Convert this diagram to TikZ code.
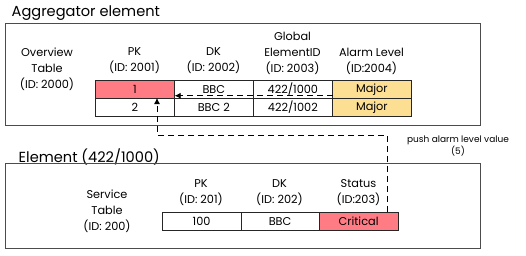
\documentclass[tikz,border=0pt]{standalone}
\usepackage{fontspec}
\setmainfont{Poppins}
\usepackage{xcolor}
\usetikzlibrary{arrows.meta}

\definecolor{alarmred}{HTML}{FF7C85}
\definecolor{alarmyellow}{HTML}{FDDF94}

\tikzset{
	frame/.style = {draw = black!70, line width = 0.8pt},
	cell/.style = {draw = black!85, line width = 0.7pt, anchor = north west, inner sep = 0pt,
		minimum width = 79pt, minimum height = 18pt, font = \fontsize{11.3}{12}\selectfont},
	head/.style = {align = center, inner sep = 0pt, font = \fontsize{11.3}{16}\selectfont},
	title/.style = {anchor = west, inner sep = 0pt, font = \fontsize{14.6}{16}\selectfont},
	push/.style = {dashed, line width = 0.8pt, dash pattern = on 6pt off 4pt, -{Latex[length = 6pt, width = 6pt]}}
}

\begin{document}
\begin{tikzpicture}[x = 1pt, y = -1pt]
		\useasboundingbox (0,0) rectangle (526,255);
		
		% aggregator element
		\node[title] (aggtitle) at (11.5,13) {Aggregator element};
		\draw[frame] (5,23) rectangle (480,125);
		
		\node[head] (ovw) at (47,69) {Overview\\Table\\(ID: 2000)};
		\node[head] (hpk) at (134.5,61) {PK\\(ID: 2001)};
		\node[head] (hdk) at (213.5,61) {DK\\(ID: 2002)};
		\node[head] (hgid) at (292.5,53) {Global\\ElementID\\(ID: 2003)};
		\node[head] (halarm) at (371.5,61) {Alarm Level\\(ID:2004)};
		
		\node[cell, fill = alarmred] (pk1) at (95,80) {1};
		\node[cell] (dk1) at (174,80) {BBC};
		\node[cell] (gid1) at (253,80) {422/1000};
		\node[cell, fill = alarmyellow] (al1) at (332,80) {Major};
		\node[cell] (pk2) at (95,98) {2};
		\node[cell] (dk2) at (174,98) {BBC 2};
		\node[cell] (gid2) at (253,98) {422/1002};
		\node[cell, fill = alarmyellow] (al2) at (332,98) {Major};
		
		% element
		\node[title] (eltitle) at (18.5,157) {Element (422/1000)};
		\draw[frame] (5,163) rectangle (480,248);
		
		\node[head] (svc) at (107,211) {Service\\Table\\(ID: 200)};
		\node[head] (spk) at (201,192.5) {PK\\(ID: 201)};
		\node[head] (sdk) at (279.5,192.5) {DK\\(ID: 202)};
		\node[head] (sstat) at (358.5,192.5) {Status\\(ID:203)};
		
		\node[cell, minimum width = 78.5pt, minimum height = 17.5pt] (spk1) at (162,212) {100};
		\node[cell, minimum width = 78.5pt, minimum height = 17.5pt] (sdk1) at (240.5,212) {BBC};
		\node[cell, minimum width = 78.5pt, minimum height = 17.5pt, fill = alarmred] (sst1) at (319,212) {Critical};
		
		% arrows
		\coordinate (bend) at (157,135);
		\draw[push] ([xshift = -11pt]sst1.north east) |- (bend) -- (bend |- pk2.north);
		\draw[push] ([yshift = 3pt]gid1.south east) -- ([yshift = 3pt]pk1.south east);
		
		\node[align = center, inner sep = 0pt, font = \fontsize{9}{12}\selectfont] (note) at (458,146)
			{push alarm level value\\(5)};
	\end{tikzpicture}
\end{document}
